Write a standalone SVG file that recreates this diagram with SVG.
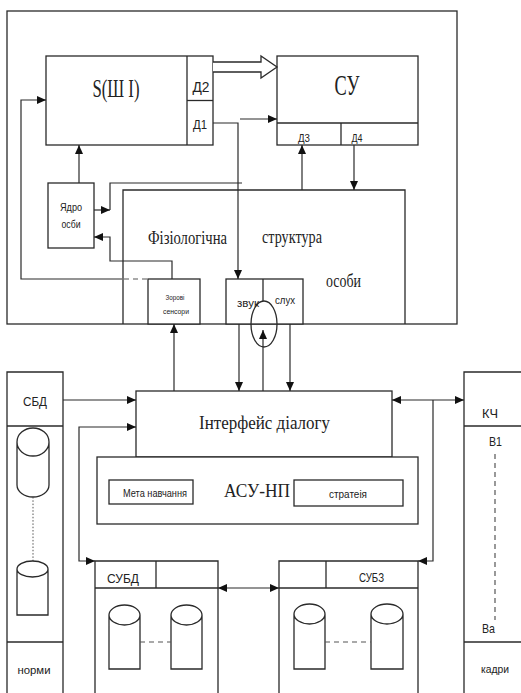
<svg xmlns="http://www.w3.org/2000/svg" width="521" height="693" viewBox="0 0 521 693">
<style>
.b{fill:none;stroke:#2a2a2a;stroke-width:1.3}
.w{fill:#fff;stroke:#2a2a2a;stroke-width:1.3}
.c{fill:none;stroke:#2a2a2a;stroke-width:1.2}
.dash{fill:none;stroke:#555;stroke-width:1.2;stroke-dasharray:5,4}
.dot{fill:none;stroke:#555;stroke-width:1;stroke-dasharray:1.5,1.8}
.sf{font-family:"Liberation Serif",serif;fill:#222;text-anchor:middle}
.ss{font-family:"Liberation Sans",sans-serif;fill:#222;text-anchor:middle}
</style>
<defs>
<marker id="a" viewBox="0 0 10 10" refX="10" refY="5" markerWidth="9" markerHeight="8" markerUnits="userSpaceOnUse" orient="auto-start-reverse" preserveAspectRatio="none">
<path d="M0,0 L10,5 L0,10 z" fill="#111"/>
</marker>
</defs>
<rect width="521" height="693" fill="#fff"/>

<g id="frame"><rect class="b" x="7" y="11" width="450" height="313"/></g>

<g id="s-box">
<rect class="b" x="46" y="56" width="167" height="89"/>
<line class="b" x1="187" y1="56" x2="187" y2="145"/>
<line class="b" x1="187" y1="100.5" x2="213" y2="100.5"/>
<text class="sf" x="116" y="97" font-size="26" textLength="47" lengthAdjust="spacingAndGlyphs">S(Ш І)</text>
<text class="ss" x="201" y="92" font-size="15" textLength="17" lengthAdjust="spacingAndGlyphs">Д2</text>
<text class="ss" x="200" y="129" font-size="13" textLength="14" lengthAdjust="spacingAndGlyphs">Д1</text>
</g>

<g id="su-box">
<rect class="b" x="277" y="56" width="141" height="89"/>
<line class="b" x1="277" y1="123" x2="418" y2="123"/>
<line class="b" x1="341" y1="123" x2="341" y2="145"/>
<text class="sf" x="347" y="95" font-size="29" textLength="25" lengthAdjust="spacingAndGlyphs">СУ</text>
<text class="ss" x="304" y="142" font-size="11" textLength="12" lengthAdjust="spacingAndGlyphs">Д3</text>
<text class="ss" x="357" y="142" font-size="11" textLength="11" lengthAdjust="spacingAndGlyphs">Д4</text>
</g>

<g id="yadro">
<rect class="b" x="48" y="183" width="46" height="65"/>
<text class="ss" x="71" y="211" font-size="10.5" textLength="22" lengthAdjust="spacingAndGlyphs">Ядро</text>
<text class="ss" x="71" y="228" font-size="10.5" textLength="19" lengthAdjust="spacingAndGlyphs">осби</text>
</g>

<g id="fiz">
<polyline class="b" points="123,324 123,190 405,190 405,324"/>
<text class="sf" x="187.5" y="244" font-size="19" textLength="79" lengthAdjust="spacingAndGlyphs">Фізіологічна</text>
<text class="sf" x="292" y="243" font-size="19" textLength="60" lengthAdjust="spacingAndGlyphs">структура</text>
<text class="sf" x="343.5" y="287" font-size="19" textLength="35" lengthAdjust="spacingAndGlyphs">особи</text>
</g>

<g id="zorovi">
<rect class="w" x="148" y="279" width="52" height="45"/>
<text class="ss" x="175" y="300" font-size="8" textLength="19" lengthAdjust="spacingAndGlyphs">Зорові</text>
<text class="ss" x="176" y="314" font-size="8" textLength="26" lengthAdjust="spacingAndGlyphs">сенсори</text>
</g>

<g id="zvuk">
<rect class="w" x="226" y="279" width="77" height="45"/>
<line class="b" x1="263" y1="279" x2="263" y2="301"/>
<ellipse class="b" cx="264" cy="324" rx="13" ry="23"/>
<text class="ss" x="248" y="307" font-size="10" textLength="22" lengthAdjust="spacingAndGlyphs">звук</text>
<text class="ss" x="285" y="304" font-size="10" textLength="20" lengthAdjust="spacingAndGlyphs">слух</text>
</g>

<g id="interface">
<rect class="b" x="136" y="391" width="256" height="66"/>
<text class="sf" x="264.5" y="429" font-size="19" textLength="131" lengthAdjust="spacingAndGlyphs">Інтерфейс діалогу</text>
</g>

<g id="asu">
<rect class="w" x="97" y="457" width="321" height="67"/>
<text class="sf" x="257" y="497" font-size="19" textLength="66" lengthAdjust="spacingAndGlyphs">АСУ-НП</text>
<rect class="b" x="109" y="480" width="84" height="24"/>
<text class="ss" x="155" y="497" font-size="10.5" textLength="64" lengthAdjust="spacingAndGlyphs">Мета навчання</text>
<rect class="b" x="294" y="480" width="109" height="26"/>
<text class="ss" x="348" y="498" font-size="10.5" textLength="38" lengthAdjust="spacingAndGlyphs">стратеія</text>
</g>

<g id="sbd">
<polyline class="b" points="7,700 7,372 63,372 63,700"/>
<line class="b" x1="7" y1="426" x2="63" y2="426"/>
<line class="b" x1="7" y1="642" x2="63" y2="642"/>
<text class="ss" x="35" y="406" font-size="13" textLength="24" lengthAdjust="spacingAndGlyphs">СБД</text>
<path class="b" d="M17,442 A16,14 0 0 1 49,442 V485 A16,12 0 0 1 17,485 Z M17,442 A16,14 0 0 0 49,442"/>
<line class="dot" x1="33" y1="497" x2="33" y2="561"/>
<path class="b" d="M17,569 A15.5,8 0 0 1 48,569 V615 H17 Z M17,569 A15.5,8 0 0 0 48,569"/>
<text class="ss" x="34" y="674" font-size="10.5" textLength="33" lengthAdjust="spacingAndGlyphs">норми</text>
</g>

<g id="kch">
<polyline class="b" points="522,372 464,372 464,700"/>
<line class="b" x1="464" y1="426" x2="522" y2="426"/>
<line class="b" x1="464" y1="642" x2="522" y2="642"/>
<text class="ss" x="490" y="418" font-size="13" textLength="16" lengthAdjust="spacingAndGlyphs">КЧ</text>
<text class="ss" x="495.5" y="446" font-size="13" textLength="13" lengthAdjust="spacingAndGlyphs">В1</text>
<line class="dash" x1="495" y1="454" x2="495" y2="620"/>
<text class="ss" x="488.5" y="633" font-size="13" textLength="13" lengthAdjust="spacingAndGlyphs">Ва</text>
<text class="ss" x="495" y="673" font-size="10.5" textLength="28" lengthAdjust="spacingAndGlyphs">кадри</text>
</g>

<g id="subd">
<polyline class="b" points="95,700 95,561 218,561 218,700"/>
<line class="b" x1="95" y1="588" x2="218" y2="588"/>
<line class="b" x1="156" y1="561" x2="156" y2="588"/>
<text class="ss" x="123" y="583" font-size="12.5" textLength="32" lengthAdjust="spacingAndGlyphs">СУБД</text>
<path class="b" d="M109,615 A15.5,10 0 0 1 140,615 V669 H109 Z M109,615 A15.5,10 0 0 0 140,615"/>
<path class="b" d="M171,615 A15.5,10 0 0 1 202,615 V669 H171 Z M171,615 A15.5,10 0 0 0 202,615"/>
<line class="dash" x1="140" y1="642" x2="171" y2="642"/>
</g>

<g id="subz">
<polyline class="b" points="279,700 279,561 418,561 418,700"/>
<line class="b" x1="279" y1="588" x2="418" y2="588"/>
<line class="b" x1="326" y1="561" x2="326" y2="588"/>
<text class="ss" x="371.5" y="582" font-size="12.5" textLength="25" lengthAdjust="spacingAndGlyphs">СУБЗ</text>
<path class="b" d="M294,614 A15.5,10 0 0 1 325,614 V669 H294 Z M294,614 A15.5,10 0 0 0 325,614"/>
<path class="b" d="M371,614 A16,10 0 0 1 403,614 V669 H371 Z M371,614 A16,10 0 0 0 403,614"/>
<line class="dash" x1="325" y1="642" x2="371" y2="642"/>
</g>

<g id="connectors">
<path class="c" d="M122,279 H21 V100 H46" marker-end="url(#a)"/>
<line class="dash" x1="124" y1="279" x2="148" y2="279"/>
<path class="c" d="M79,183 V145" marker-end="url(#a)"/>
<path class="c" d="M213,123 H238 V279" marker-end="url(#a)"/>
<path class="c" d="M240,119 H277" marker-end="url(#a)"/>
<path class="w" d="M213,62 H261 V56 L277,67 L261,78 V72 H213"/>
<path class="c" d="M302,190 V145" marker-end="url(#a)"/>
<path class="c" d="M354,145 V190" marker-end="url(#a)"/>
<path class="c" d="M94,210 H110" marker-end="url(#a)"/>
<path class="c" d="M110,210 V183 H242"/>
<path class="c" d="M172,279 V261 H110 V237 H94" marker-end="url(#a)"/>
<path class="c" d="M174,391 V324" marker-end="url(#a)"/>
<path class="c" d="M239,324 V391" marker-end="url(#a)"/>
<path class="c" d="M290,324 V391" marker-end="url(#a)"/>
<path class="c" d="M263,391 V330" marker-end="url(#a)"/>
<path class="c" d="M63,400 H136" marker-end="url(#a)"/>
<path class="c" d="M136,427 H79 V561 H95" marker-start="url(#a)" marker-end="url(#a)"/>
<path class="c" d="M392,400 H464" marker-start="url(#a)" marker-end="url(#a)"/>
<path class="c" d="M433,400 V561 H418" marker-end="url(#a)"/>
<path class="c" d="M218,588 H279" marker-start="url(#a)" marker-end="url(#a)"/>
</g>
</svg>
